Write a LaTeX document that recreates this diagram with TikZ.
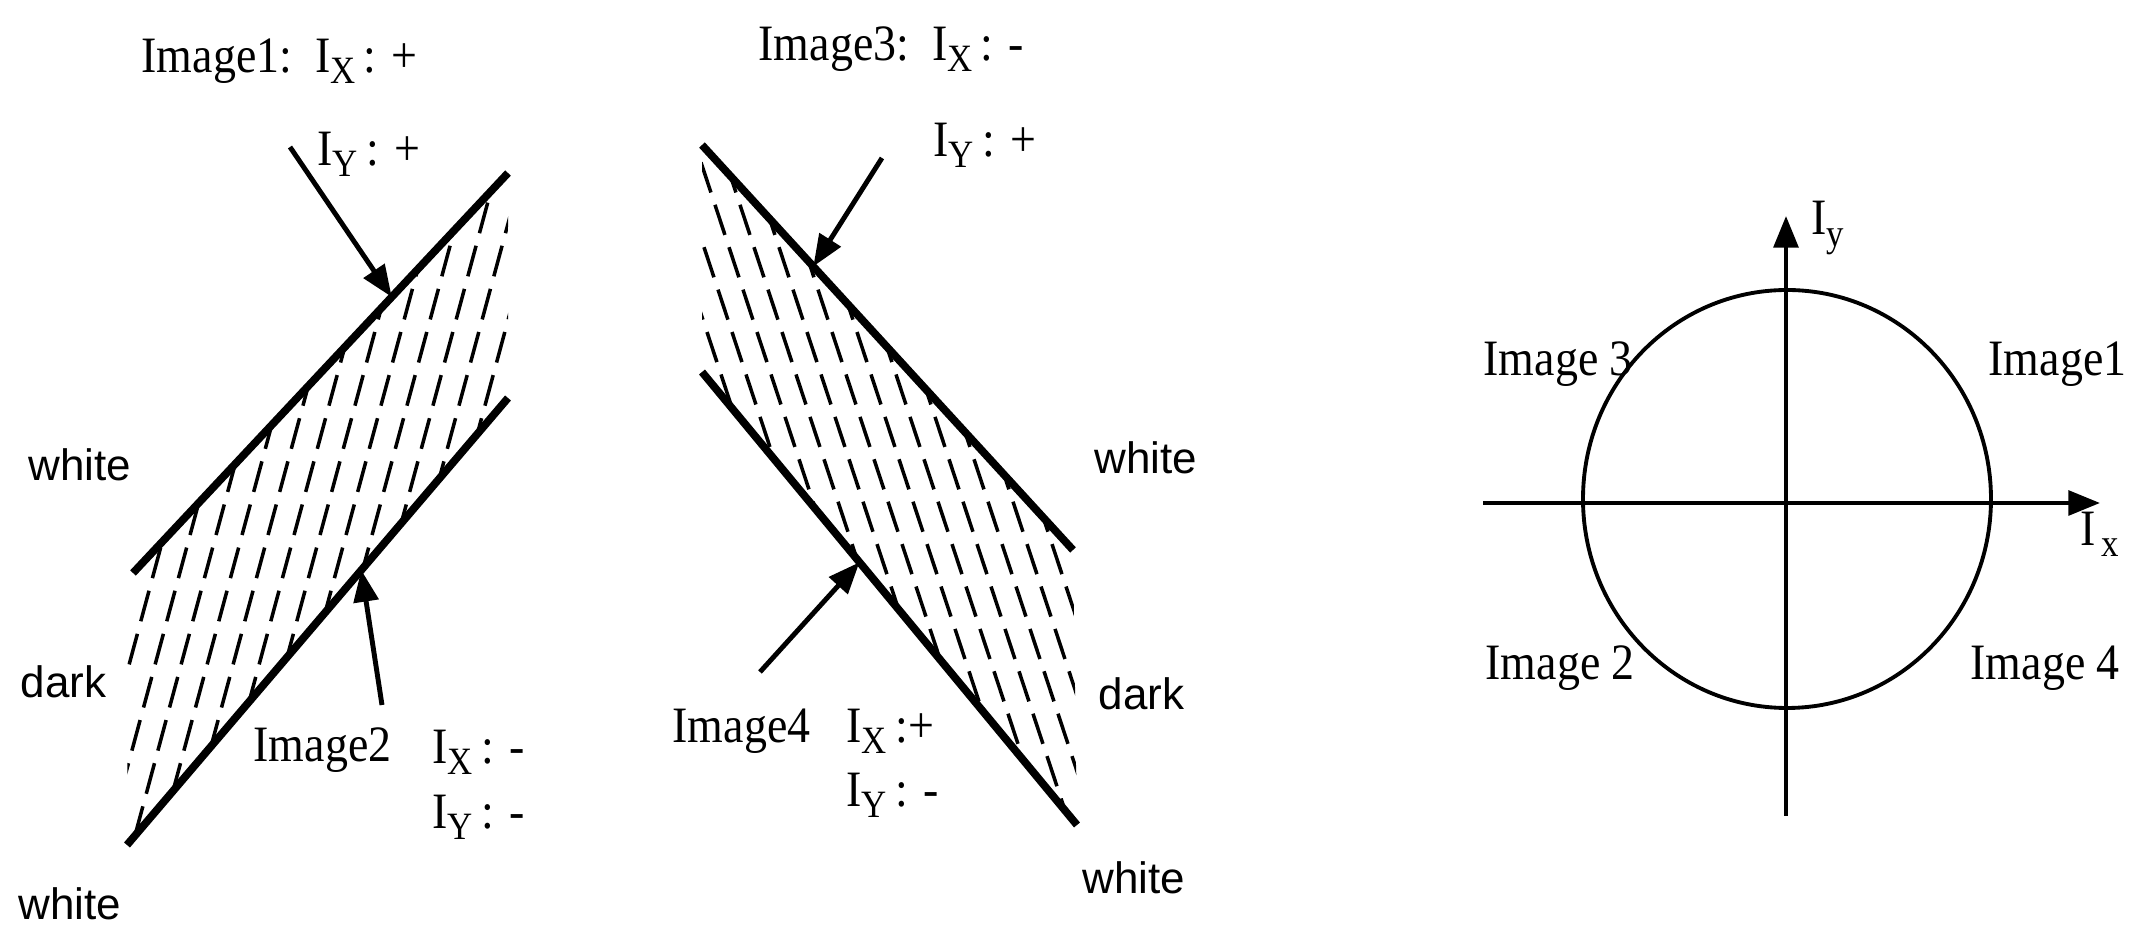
\documentclass[tikz,border=0pt]{standalone}
\usepackage{fontspec}
\setmainfont{Liberation Serif}[FakeStretch=0.9]
\newfontfamily\arialfont{Liberation Sans}
\usetikzlibrary{arrows.meta,calc}

\newcommand{\subidx}[1]{\raisebox{-3.2pt}{\fontsize{11}{11}\selectfont #1}}

\begin{document}
\begin{tikzpicture}[x=0.01cm,y=-0.01cm,
  edge/.style={line width=2.2pt},
  hatch/.style={line width=1pt,dash pattern=on 9pt off 3.7pt},
  ptr/.style={line width=1.4pt,-{Triangle[length=9pt,width=7pt]}},
  axis/.style={line width=1.2pt,-{Triangle[length=9pt,width=7pt]}},
  lbl/.style={font=\fontsize{14.5}{16}\selectfont,anchor=west,inner sep=0pt},
  tone/.style={font=\arialfont\fontsize{12.5}{14}\selectfont,anchor=west,inner sep=0pt}]

\useasboundingbox (0,0) rectangle (2141,928);

% ---- left stripe (Image1 / Image2) ----
\coordinate (ua) at (508,173);
\coordinate (ub) at (133,573);
\coordinate (la) at (508,398);
\coordinate (lb) at (127,845);

\begin{scope}
  \clip (ua) -- (ub) -- (128,600) -- (lb) -- (la) -- cycle;
  \foreach \i in {0,...,13} {
    \draw[hatch] (45+\i*26,880) -- ++(205,-760);
  }
\end{scope}
\draw[edge] (ua) -- (ub);
\draw[edge] (la) -- (lb);

\node[lbl] (im1) at (141,61) {Image1:\ \ I\subidx{X}\,: +};
\node[lbl] (iy1) at (317,154) {I\subidx{Y}\,: +};
\node[lbl] (im2) at (253,750) {Image2};
\node[lbl] (ix2) at (432,752) {I\subidx{X}\,: -};
\node[lbl] (iy2) at (432,817) {I\subidx{Y}\,: -};

\node[tone] (w1) at (28,465) {white};
\node[tone] (d1) at (20,682) {dark};
\node[tone] (w2) at (18,904) {white};

\coordinate (s1) at (290,147);
\coordinate (t1) at ($(ua)!0.31!(ub)$);
\draw[ptr] (s1) -- (t1);
\coordinate (s2) at (382,705);
\coordinate (t2) at ($(la)!0.385!(lb)$);
\draw[ptr] (s2) -- (t2);

% ---- middle stripe (Image3 / Image4) ----
\coordinate (va) at (702,145);
\coordinate (vb) at (1073,550);
\coordinate (ma) at (702,372);
\coordinate (mb) at (1077,825);

\begin{scope}
  \clip (va) -- (vb) -- (mb) -- (ma) -- cycle;
  \foreach \i in {0,...,13} {
    \draw[hatch] (612+\i*25,120) -- ++(241,730);
  }
\end{scope}
\draw[edge] (va) -- (vb);
\draw[edge] (ma) -- (mb);

\node[lbl] (im3) at (758,49) {Image3:\ \ I\subidx{X}\,: -};
\node[lbl] (iy3) at (933,145) {I\subidx{Y}\,: +};
\node[lbl] (im4) at (672,731) {Image4};
\node[lbl] (ix4) at (846,731) {I\subidx{X}\,:+};
\node[lbl] (iy4) at (846,795) {I\subidx{Y}\,: -};

\node[tone] (w3) at (1094,458) {white};
\node[tone] (d3) at (1098,694) {dark};
\node[tone] (w4) at (1082,878) {white};

\coordinate (s3) at (882,158);
\coordinate (t3) at ($(va)!0.30!(vb)$);
\draw[ptr] (s3) -- (t3);
\coordinate (s4) at (760,672);
\coordinate (t4) at ($(ma)!0.42!(mb)$);
\draw[ptr] (s4) -- (t4);

% ---- quadrant diagram ----
\coordinate (o) at (1787,499);
\draw[line width=1.1pt] (o) ellipse [x radius=204, y radius=209];
\coordinate (xl) at (1483,503);
\coordinate (xr) at (2100,503);
\coordinate (yb) at (1786,816);
\coordinate (yt) at (1786,216);
\draw[axis] (xl) -- (xr);
\draw[axis] (yb) -- (yt);

\node[lbl] (ly) at (1811,228) {I\subidx{y}};
\node[lbl] (lx) at (2080,534) {I\hspace{1.5pt}\subidx{x}};
\node[lbl] (q3) at (1483,364) {Image 3};
\node[lbl] (q1) at (1988,364) {Image1};
\node[lbl] (q2) at (1485,668) {Image 2};
\node[lbl] (q4) at (1970,668) {Image 4};

\end{tikzpicture}
\end{document}
